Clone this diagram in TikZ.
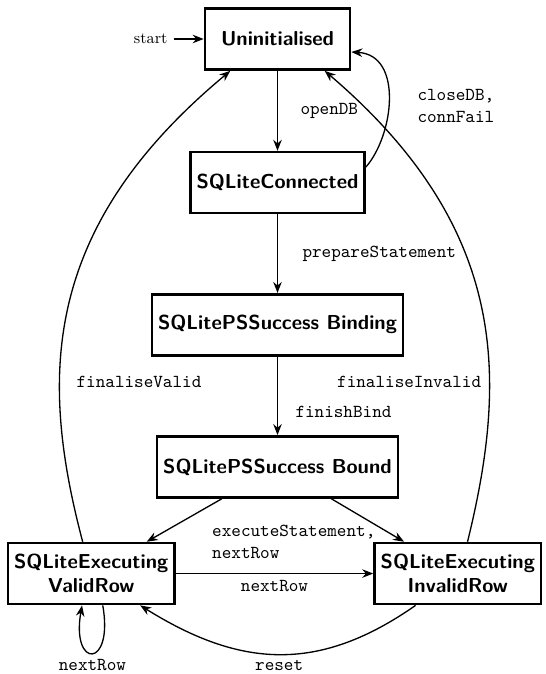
\documentclass[tikz,border=0pt]{standalone}
\usepackage{tikz}
\usetikzlibrary{arrows.meta,positioning}

\begin{document}
\begin{tikzpicture}[
        state/.style={draw, line width=1.5pt, rectangle, minimum height=1.22cm, minimum width=2.9cm,
                    inner xsep=3.5pt, inner ysep=4pt, align=center,
                    font=\sffamily\bfseries\fontsize{11.5}{13.5}\selectfont},
        trans/.style={-{Stealth[length=2.2mm,width=1.7mm]}, line width=0.75pt},
        lbl/.style={font=\ttfamily\fontsize{10.4}{12.6}\selectfont}
    ]
        \useasboundingbox (-5.55,0.78) rectangle (5.35,-12.7);
        \node[state] (uninit) {Uninitialised};
        \node[state, below=1.6cm of uninit] (connected) {SQLiteConnected};
        \node[state, below=1.57cm of connected] (binding) {SQLitePSSuccess Binding};
        \node[state, below=1.57cm of binding] (bound) {SQLitePSSuccess Bound};
        \node[state, below left=0.86cm and -0.4cm of bound] (valid) {SQLiteExecuting\\ValidRow};
        \node[state, below right=0.86cm and -0.52cm of bound] (invalid) {SQLiteExecuting\\InvalidRow};
        \node[left=0.6cm of uninit, font=\small] (start) {start};

        \draw[trans] (start) -- (uninit);
        \draw[trans] (uninit) -- node[lbl, right=0.33cm]{openDB} (connected);
        \draw[trans] (connected.10) .. controls +(0.56,0.64) and +(1.04,-0.06) .. node[lbl, pos=0.45, right=0.45cm, align=left]{closeDB,\\connFail} (uninit.-10);
        \draw[trans] (connected) -- node[lbl, right=0.37cm]{prepareStatement} (binding);
        \draw[trans] (binding) -- node[lbl, pos=0.71, right=0.23cm]{finishBind} (bound);
        \draw[trans] (bound) -- node[lbl, pos=1, right=1.18cm, align=left]{executeStatement,\\nextRow} (valid);
        \draw[trans] (bound) -- (invalid);
        \draw[trans] (valid) -- node[lbl, below]{nextRow} (invalid);
        \draw[trans] (valid.-70) to[out=-80, in=-100, looseness=8] node[lbl, below]{nextRow} (valid.-106);
        \draw[trans] (invalid.-143) to[out=-145, in=-32, looseness=1.1] node[lbl, below]{reset} (valid.-33);
        \draw[trans] (valid.105) .. controls +(-0.86,3.26) and +(-3.8,-3.16) .. node[lbl, pos=0.335, right=0.21cm]{finaliseValid} (uninit.214);
        \draw[trans] (invalid.73) .. controls +(0.8,3.26) and +(3.7,-3.16) .. node[lbl, pos=0.335, left=1pt]{finaliseInvalid} (uninit.-34);
\end{tikzpicture}
\end{document}
